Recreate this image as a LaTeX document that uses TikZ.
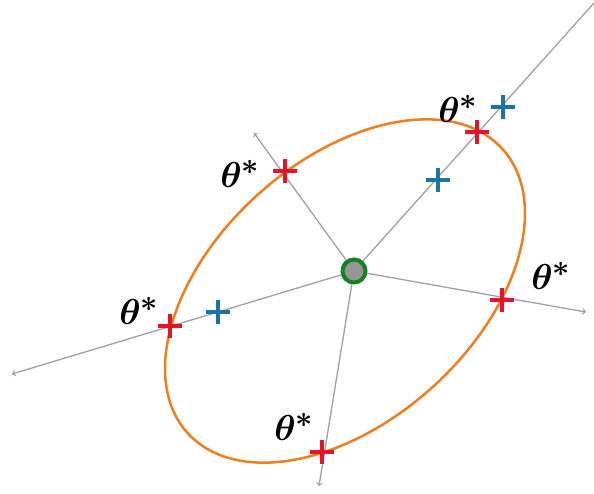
\documentclass[tikz,border=0pt]{standalone}
\usepackage{amsmath,amssymb,bm}
\usepackage{graphicx}
\usepackage{tikz}
\usetikzlibrary{shapes.misc}
\definecolor{raygray}{RGB}{160,160,160}
\definecolor{ellorange}{RGB}{240,125,30}
\definecolor{markred}{RGB}{230,20,40}
\definecolor{markblue}{RGB}{30,115,165}
\definecolor{dotgreen}{RGB}{20,130,30}
\definecolor{dotgray}{RGB}{150,150,150}
\newcommand{\thetastar}{\scalebox{1.45}{\Huge$\boldsymbol{\theta}^{\boldsymbol{*}}$}}

\begin{document}
\begin{tikzpicture}[x=1pt, y=-1pt,
    ray/.style={->, draw=raygray, line width=1.3pt},
    plusmark/.style={cross out, draw=#1, line width=3.5pt, rotate=45,
                     minimum size=14pt, inner sep=0pt},
    thetalabel/.style={inner sep=0pt}]
            \useasboundingbox (0,0) rectangle (594,493);

            % Centre point
            \node[circle, fill=dotgray, draw=dotgreen, line width=4pt,
                  minimum size=23pt, inner sep=0pt] (ctr) at (354,271) {};

            % Ray ends
            \coordinate (endUR) at (594,3);
            \coordinate (endUL) at (254,133);
            \coordinate (endR) at (586,312);
            \coordinate (endD) at (319,486);
            \coordinate (endL) at (12,374);

            % Rays
            \draw[draw=raygray, line width=1.3pt] (ctr) -- (endUR);
            \draw[ray] (ctr) -- (endUL);
            \draw[ray] (ctr) -- (endR);
            \draw[ray] (ctr) -- (endD);
            \draw[ray] (ctr) -- (endL);

            % Ellipse
            \coordinate (ellc) at (345,291);
            \draw[ellorange, line width=2.5pt, rotate around={42:(ellc)}]
                (ellc) ellipse [x radius=212pt, y radius=130pt];

            % Points on the ellipse
            \node[plusmark=markred] (p1) at (477,132) {};
            \node[plusmark=markred] (p2) at (285,171) {};
            \node[plusmark=markred] (p3) at (170,326) {};
            \node[plusmark=markred] (p4) at (502,300) {};
            \node[plusmark=markred] (p5) at (322,452) {};

            % Other points
            \node[plusmark=markblue] (q1) at (503,107) {};
            \node[plusmark=markblue] (q2) at (438,180) {};
            \node[plusmark=markblue] (q3) at (218,312) {};

            % Labels
            \node[thetalabel] (l1) at (458,109) {\thetastar};
            \node[thetalabel] (l2) at (240,174) {\thetastar};
            \node[thetalabel] (l3) at (139,311) {\thetastar};
            \node[thetalabel] (l4) at (551,276) {\thetastar};
            \node[thetalabel] (l5) at (294,427) {\thetastar};
        \end{tikzpicture}
\end{document}
